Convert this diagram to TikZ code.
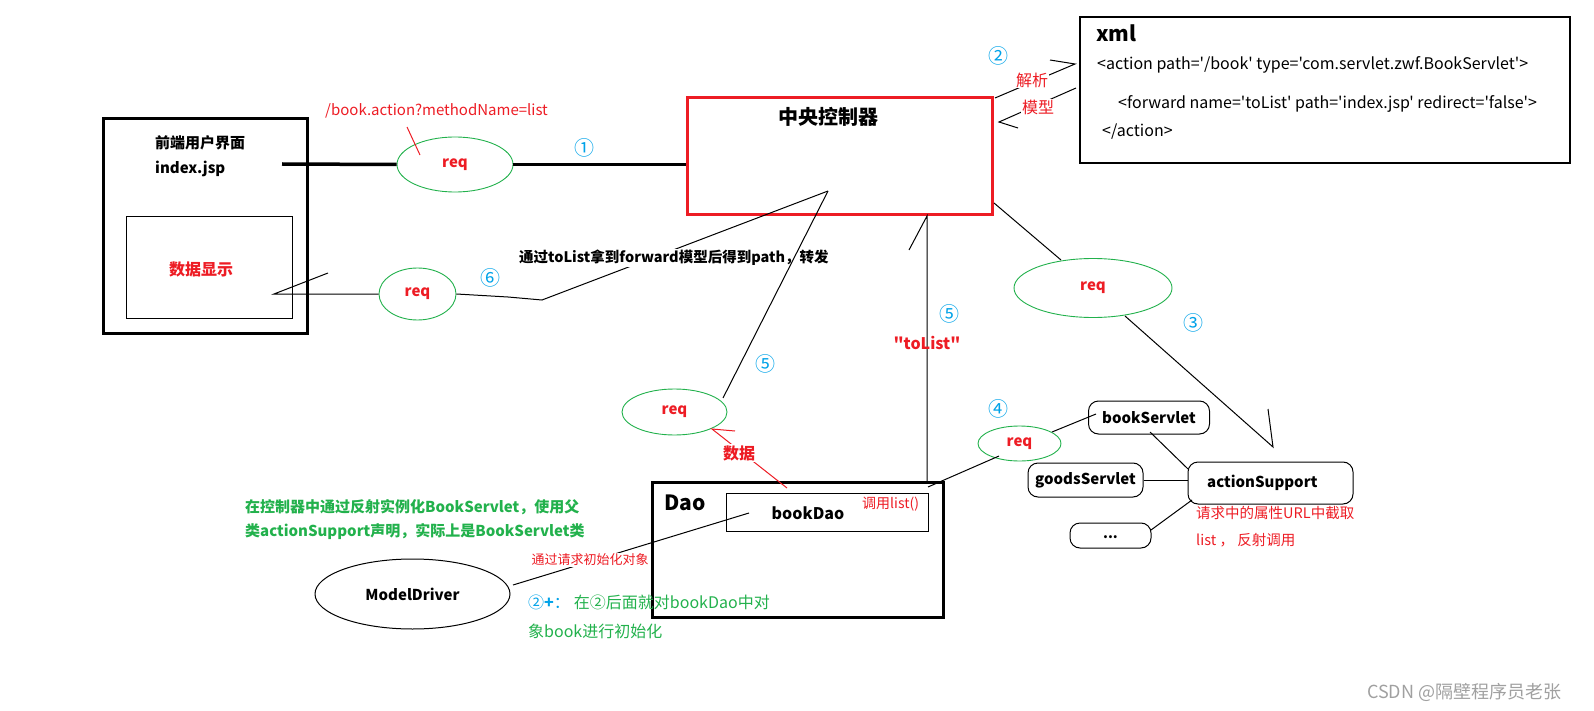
\documentclass[tikz,border=0pt]{standalone}
\usepackage{fontspec}
\setmainfont{Noto Sans CJK SC}[Ligatures=TeXOff]
\usetikzlibrary{shapes.geometric}
\definecolor{pred}{RGB}{237,28,36}
\definecolor{pgreen}{RGB}{34,177,76}
\definecolor{pblue}{RGB}{0,162,232}
\definecolor{wm}{RGB}{160,160,160}
\newcommand\myfs[1]{\fontsize{#1pt}{#1pt}\selectfont}
\tikzset{
  ell/.style={ellipse, draw=pgreen, line width=0.9pt, inner sep=0pt},
  reqtxt/.style={text=pred, font=\myfs{15}\bfseries},
  circnum/.style={text=pblue, font=\myfs{20}, inner sep=0pt},
  boxthick/.style={draw, line width=3pt, inner sep=0pt},
  boxthin/.style={draw, line width=1pt, inner sep=0pt},
  rbox/.style={draw, line width=1pt, rounded corners=10pt, inner sep=0pt},
  lw/.style={anchor=west, inner sep=0pt},
  thinln/.style={line width=1pt},
  thickln/.style={line width=3.5pt},
  whitelbl/.style={fill=white, inner sep=1pt},
}
\begin{document}
\begin{tikzpicture}[x=1pt,y=-1pt]
\useasboundingbox (0,0) rectangle (1594,711);

% ---------- front end ----------
\node[boxthick, minimum width=204pt, minimum height=214pt] (fe) at (205,226) {};
\node[boxthin, minimum width=166pt, minimum height=101pt] (dsp) at (209,267.5) {};
\node[lw, font=\myfs{15}\bfseries] (feT) at (155,143) {前端用户界面};
\node[lw, font=\myfs{15}\bfseries] (idx) at (155,169) {index.jsp};
\node[text=pred, font=\myfs{16}\bfseries] (dspT) at (201,269) {数据显示};

% ---------- controller ----------
\node[draw=pred, line width=3pt, minimum width=305pt, minimum height=117pt, inner sep=0pt] (ctrl) at (839.5,156.5) {};
\node[font=\myfs{20}\bfseries] (ctrlT) at (828,117) {中央控制器};

% ---------- req1 ----------
\node[ell, minimum width=116pt, minimum height=55pt, reqtxt] (req1) at (455,164.5) {req};
\coordinate (idxR) at (282,164);
\draw[thickln] (idxR) -- (req1.west);
\draw[thickln] (req1.east) -- (req1.east -| ctrl.west);
\node[lw, text=pred, font=\myfs{15}] (url) at (325,111) {/book.action?methodName=list};
\coordinate (urlA) at (407,127);
\coordinate (urlB) at (420,155);
\draw[pred, thinln] (urlA) -- (urlB);
\node[circnum] (n1) at (584,148) {①};

% ---------- xml ----------
\node[draw, line width=1.3pt, minimum width=490pt, minimum height=146pt, inner sep=0pt] (xml) at (1325,90) {};
\node[lw, font=\myfs{21}\bfseries] (xmlT) at (1096,33) {xml};
\node[lw, font=\myfs{16}] (xml1) at (1097,65) {<action path='/book' type='com.servlet.zwf.BookServlet'>};
\node[lw, font=\myfs{16}] (xml2) at (1118,104) {<forward name='toList' path='index.jsp' redirect='false'>};
\node[lw, font=\myfs{16}] (xml3) at (1102,132) {</action>};

\coordinate (pA) at (995,98);
\coordinate (pB) at (1075,64);
\coordinate (pC) at (1050,60);
\draw[thinln] (pA) -- (pB) -- (pC);
\coordinate (mA) at (1076,88);
\coordinate (mB) at (999,122);
\coordinate (mC) at (1018,128);
\draw[thinln] (mA) -- (mB) -- (mC);
\node[circnum] (n2) at (998,56) {②};
\node[whitelbl, text=pred, font=\myfs{16}] (jx) at (1032,80) {解析};
\node[whitelbl, text=pred, font=\myfs{16}] (mx) at (1038,107) {模型};

% ---------- req3 -> actionSupport ----------
\node[ell, minimum width=158pt, minimum height=59pt, reqtxt] (req3) at (1093,288) {req};
\coordinate (cSE) at (994,203);
\coordinate (r3in) at (1061,260);
\draw[thinln] (cSE) -- (r3in);
\coordinate (r3out) at (1125,316);
\coordinate (asTip) at (1273,447);
\coordinate (asTip2) at (1268,409);
\draw[thinln] (r3out) -- (asTip) -- (asTip2);
\node[circnum] (n3) at (1193,323) {③};

% ---------- req2 (6) ----------
\node[ell, minimum width=77pt, minimum height=52pt, reqtxt] (req2) at (417.5,294) {req};
\coordinate (d1) at (274,294);
\coordinate (d2) at (328,273);
\draw[thinln] (d2) -- (d1) -- (req2.west);
\coordinate (s1) at (508,297);
\coordinate (s2) at (542,300);
\coordinate (cIn) at (828,191);
\draw[thinln] (req2.east) -- (s1) -- (s2) -- (cIn);
\node[circnum] (n6) at (490,278) {⑥};
\node[lw, fill=white, inner sep=1pt, font=\myfs{14.5}\bfseries] (fwd) at (518,258) {通过toList拿到forward模型后得到path，转发};

% ---------- req5 ----------
\node[ell, minimum width=105pt, minimum height=46pt, reqtxt] (req5) at (674.5,412) {req};
\coordinate (r5out) at (723,398);
\draw[thinln] (r5out) -- (cIn);
\node[circnum] (n5a) at (765,364) {⑤};

% ---------- Dao ----------
\node[boxthick, minimum width=291pt, minimum height=135pt] (dao) at (797.5,549.5) {};
\node[lw, font=\myfs{21}\bfseries] (daoT) at (664,503) {Dao};
\node[boxthin, minimum width=202pt, minimum height=38pt] (bdao) at (827,512) {};
\node[font=\myfs{16}\bfseries] (bdaoT) at (808,513) {bookDao};
\node[lw, text=pred, font=\myfs{14}] (call) at (862,504) {调用list()};

% vertical toList line
\coordinate (vTop) at (927,216);
\coordinate (vBot) at (927,483);
\coordinate (vSl) at (909,250);
\draw[thinln] (vBot) -- (vTop) -- (vSl);
\node[circnum] (n5b) at (949,314) {⑤};
\node[text=pred, font=\myfs{16}\bfseries] (tl) at (927,343) {"toList"};

% data arrow
\coordinate (dA) at (787,488);
\coordinate (dB) at (712,429);
\coordinate (dC) at (735,431);
\draw[pred, thinln] (dA) -- (dB) -- (dC);
\node[whitelbl, text=pred, font=\myfs{16}\bfseries] (sj) at (739,453) {数据};

% ---------- req4 and servlets ----------
\node[ell, minimum width=83pt, minimum height=35pt, reqtxt] (req4) at (1019.5,443.5) {req};
\coordinate (dTR) at (928,487);
\coordinate (r4a) at (999,456);
\draw[thinln] (dTR) -- (r4a);
\node[circnum] (n4) at (998,409) {④};

\node[rbox, minimum width=121pt, minimum height=33pt, font=\myfs{15}\bfseries] (bs) at (1149,417.5) {bookServlet};
\node[rbox, minimum width=115pt, minimum height=34pt, font=\myfs{15}\bfseries] (gs) at (1085.5,480) {goodsServlet};
\node[rbox, minimum width=165pt, minimum height=42pt] (as) at (1270.5,483) {};
\node[lw, font=\myfs{15}\bfseries] (asT) at (1207,483) {actionSupport};
\node[rbox, minimum width=81pt, minimum height=25pt] (dots) at (1110.5,535.5) {};
\node[font=\myfs{14}\bfseries] (dotsT) at (1110.5,537) {...};

\coordinate (r4b) at (1052,432);
\coordinate (bsL) at (1096,414);
\draw[thinln] (r4b) -- (bsL);
\coordinate (bsB) at (1150,432);
\coordinate (asA) at (1188,469);
\draw[thinln] (bsB) -- (asA);
\draw[thinln] (gs.east) -- (gs.east -| as.west);
\coordinate (dotsR) at (1151,530);
\coordinate (asB) at (1192,500);
\draw[thinln] (dotsR) -- (asB);
\node[lw, text=pred, font=\myfs{14.5}] (rq1) at (1196,513) {请求中的属性URL中截取};
\node[lw, text=pred, font=\myfs{14.5}] (rq2) at (1196,540) {list ， 反射调用};

% ---------- ModelDriver ----------
\node[draw, ellipse, line width=1pt, inner sep=0pt, minimum width=195pt, minimum height=70pt, font=\myfs{15}\bfseries] (md) at (412.5,594) {ModelDriver};
\coordinate (bdIn) at (749,513);
\coordinate (mdR) at (513,585);
\draw[thinln] (bdIn) -- (mdR);
\node[whitelbl, text=pred, font=\myfs{13}] (init) at (590,560) {通过请求初始化对象};

\node[lw, text=pgreen, font=\myfs{15}\bfseries] (g1) at (245,507) {在控制器中通过反射实例化BookServlet，使用父};
\node[lw, text=pgreen, font=\myfs{15}\bfseries] (g2) at (245,532) {类actionSupport声明，实际上是BookServlet类};
\node[lw, font=\myfs{16}] (g3) at (528,602) {\textcolor{pblue}{②\textbf{+}：}\hspace{4pt}\textcolor{pgreen}{在②后面就对bookDao中对}};
\node[lw, text=pgreen, font=\myfs{16}] (g4) at (528,631) {象book进行初始化};

\node[lw, text=wm, font=\myfs{18}] (wmk) at (1367,692) {CSDN @隔壁程序员老张};
\end{tikzpicture}
\end{document}
